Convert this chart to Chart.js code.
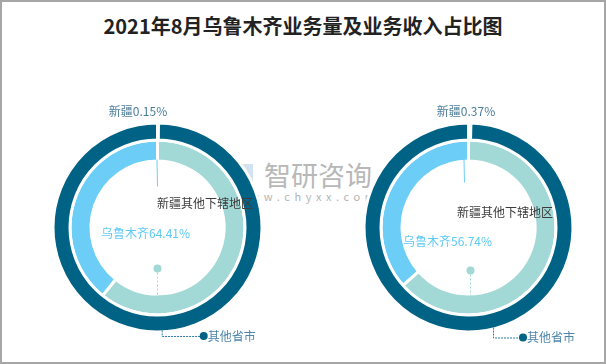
<!DOCTYPE html>
<html>
<head>
<meta charset="utf-8">
<script src="https://cdn.jsdelivr.net/npm/chart.js@4.4.0/dist/chart.umd.min.js"></script>
<style>
  body { margin: 0; background: #fff; }
  #wrap { position: relative; width: 606px; height: 364px; overflow: hidden; background: #fff;
          font-family: "Noto Sans CJK SC", sans-serif; }
  #title { position: absolute; left: 0; top: 14px; width: 606px; height: 24px; line-height: 24px;
           text-align: center; font-size: 20px; font-weight: bold; color: #222; }
  #wm { position: absolute; left: 233px; top: 160px; color: #b8b8b8; }
  #wm .icon { position: absolute; left: 0; top: 4px; width: 20px; height: 22px; background: #d3e2ef; }
  #wm .name { position: absolute; left: 31px; top: 0; font-size: 27px; line-height: 30px; white-space: nowrap; }
  #wm .url { position: absolute; left: 4px; top: 28px; font-size: 11px; letter-spacing: 4.6px; white-space: nowrap; color: #b4b4b4; }
  canvas { position: absolute; top: 0; }
  #frame { position: absolute; left: 0; top: 0; width: 606px; height: 364px; box-sizing: border-box;
           border: 2px solid #a6a6a6; pointer-events: none; }
</style>
</head>
<body>
<div id="wrap">
  <div id="title">2021年8月乌鲁木齐业务量及业务收入占比图</div>
  <div id="wm"><div class="icon"></div><div class="name">智研咨询</div><div class="url">www.chyxx.com</div></div>
  <canvas id="c1" width="315" height="364" style="left:0"></canvas>
  <canvas id="c2" width="303" height="364" style="left:303px"></canvas>
  <div id="frame"></div>
</div>
<script>
// 外环：新疆 vs 其他省市（%）
const outerNames = ['新疆', '其他省市'];
const xinjiangShare = [0.15, 0.37];
const otherProvShare = [99.85, 99.63];

// 内环：新疆其他下辖地区 / 乌鲁木齐（按图中弧长读取）
const innerNames = ['新疆其他下辖地区', '乌鲁木齐'];
const otherXinjiangArc = [60.8, 63.5];
const urumqiArc = [39.2, 36.5];
// 图中标注的乌鲁木齐占比
const urumqiLabelPct = [64.41, 56.74];

const darkBlue = '#006385';
const teal = '#a2d8d6';
const lightBlue = '#6ccef6';

// 每个图的标注位置（相对圆心）
const layouts = [
  { xj: [-19.5, -116], other: [-0.5, -24.5], urumqi: [-56.5, 5.5], topLine: [-0.5, 27],
    dot: [0, 41], leg: [4.2, 108.5, 42] },
  { xj: [-2.5, -116], other: [-11.5, -15.5], urumqi: [-65.5, 13.5], topLine: [-4.5, 23],
    dot: [2, 43], leg: [24.5, 110, 30] }
];

const annot = {
  id: 'annot',
  afterDatasetsDraw(chart, args, opts) {
    const i = opts.idx, L = layouts[i];
    const ctx = chart.ctx;
    const outer = chart.getDatasetMeta(0).data;
    const inner = chart.getDatasetMeta(1).data;
    const cx = outer[1].x, cy = outer[1].y;
    const R = outer[1].outerRadius - 1.5;
    const r0 = inner[0].innerRadius + 1.5;
    ctx.save();
    ctx.font = '12px "Noto Sans CJK SC", sans-serif';
    ctx.textBaseline = 'middle';

    // 顶部细线
    ctx.strokeStyle = lightBlue;
    ctx.lineWidth = 1;
    ctx.beginPath();
    ctx.moveTo(cx + L.topLine[0], cy - r0);
    ctx.lineTo(cx + L.topLine[0] + 0.5, cy - r0 + L.topLine[1]);
    ctx.stroke();

    // 内环圆点 + 虚线
    ctx.strokeStyle = teal;
    ctx.setLineDash([2, 2]);
    ctx.beginPath();
    ctx.moveTo(cx + L.dot[0], cy + L.dot[1]);
    ctx.lineTo(cx + L.dot[0], cy + r0);
    ctx.stroke();
    ctx.setLineDash([]);
    ctx.fillStyle = teal;
    ctx.beginPath();
    ctx.arc(cx + L.dot[0], cy + L.dot[1], 4, 0, Math.PI * 2);
    ctx.fill();

    // 外环引导线
    const lx = cx + L.leg[0];
    const ly0 = cy + Math.sqrt(R * R - L.leg[0] * L.leg[0]);
    const ly = cy + L.leg[1];
    ctx.strokeStyle = '#2f7aa3';
    ctx.setLineDash([2, 1]);
    ctx.beginPath();
    ctx.moveTo(lx + 0.5, ly0);
    ctx.lineTo(lx + 0.5, ly + 0.5);
    ctx.lineTo(lx + L.leg[2], ly + 0.5);
    ctx.stroke();
    ctx.setLineDash([]);
    ctx.fillStyle = darkBlue;
    ctx.beginPath();
    ctx.arc(lx + L.leg[2], ly, 4, 0, Math.PI * 2);
    ctx.fill();
    ctx.fillStyle = '#4d86ab';
    ctx.textAlign = 'left';
    ctx.fillText(outerNames[1], lx + L.leg[2] + 4, ly);

    // 文本标签
    ctx.textAlign = 'center';
    ctx.fillStyle = '#4b7d9a';
    ctx.fillText(outerNames[0] + xinjiangShare[i].toFixed(2) + '%', cx + L.xj[0], cy + L.xj[1]);
    ctx.textAlign = 'left';
    ctx.fillStyle = '#3c3c3c';
    ctx.fillText(innerNames[0], cx + L.other[0], cy + L.other[1]);
    ctx.fillStyle = '#5ec9f5';
    ctx.fillText(innerNames[1] + urumqiLabelPct[i].toFixed(2) + '%', cx + L.urumqi[0], cy + L.urumqi[1]);
    ctx.restore();
  }
};

function makeChart(id, i, padLeft) {
  return new Chart(document.getElementById(id), {
    type: 'doughnut',
    data: {
      labels: outerNames,
      datasets: [
        {
          data: [xinjiangShare[i], otherProvShare[i]],
          backgroundColor: ['#ffffff', darkBlue],
          borderColor: '#ffffff',
          borderWidth: 3,
          weight: 17
        },
        {
          data: [otherXinjiangArc[i], urumqiArc[i]],
          backgroundColor: [teal, lightBlue],
          borderColor: '#ffffff',
          borderWidth: 3,
          weight: 21
        }
      ]
    },
    options: {
      responsive: false,
      animation: false,
      events: [],
      radius: 104.5,
      cutout: (66.5 / 104.5 * 100) + '%',
      layout: { padding: { top: 91, left: padLeft } },
      plugins: {
        legend: { display: false },
        tooltip: { enabled: false },
        annot: { idx: i }
      }
    },
    plugins: [annot]
  });
}

makeChart('c1', 0, 0);
makeChart('c2', 1, 28);
</script>
</body>
</html>
